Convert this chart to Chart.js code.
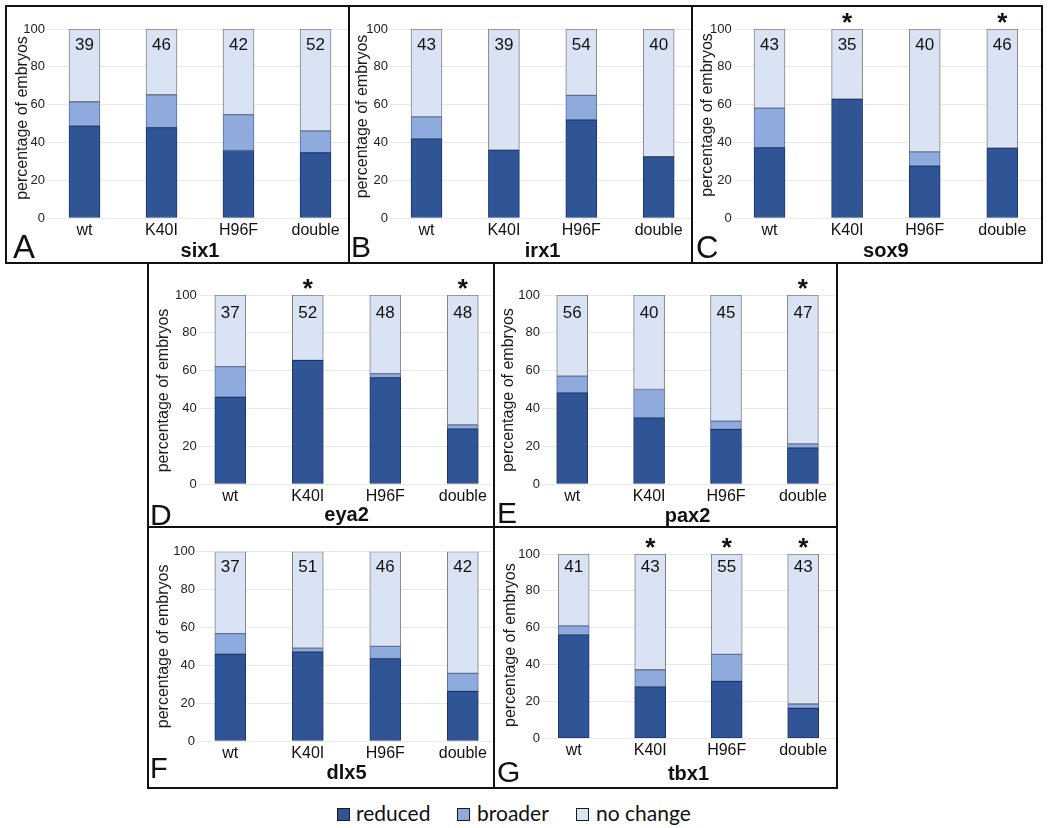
<!DOCTYPE html>
<html><head><meta charset="utf-8">
<script src="https://cdn.jsdelivr.net/npm/chart.js@4.4.1/dist/chart.umd.min.js"></script>
<style>
html,body{margin:0;padding:0;background:#fff;}
body{width:1050px;height:828px;position:relative;overflow:hidden;font-family:"Liberation Sans",Arial,sans-serif;}
.clip{position:absolute;overflow:hidden;}
.clip canvas{position:absolute;left:0;top:0;}
.frame{position:absolute;border:2px solid #111;box-sizing:border-box;pointer-events:none;z-index:5;}
.sw{position:absolute;width:11px;height:11px;border:1px solid #1a1a1a;}
.tx{position:absolute;font-family:Lato,"Open Sans",sans-serif;font-size:21px;line-height:1.2;color:#111;white-space:nowrap;}
</style></head><body>
<script>
// ---------------- data ----------------
const categories = ['wt', 'K40I', 'H96F', 'double'];
const yTickValues = [0, 20, 40, 60, 80, 100];
const seriesNames = ['reduced', 'broader', 'no change'];

const six1Reduced = [48.7, 47.8, 35.7, 34.6];
const six1Broader = [12.8, 17.4, 19.0, 11.5];
const six1Counts  = [39, 46, 42, 52];
const six1Stars   = [0, 0, 0, 0];

const irx1Reduced = [41.9, 35.9, 51.9, 32.5];
const irx1Broader = [11.6, 0, 13.0, 0];
const irx1Counts  = [43, 39, 54, 40];
const irx1Stars   = [0, 0, 0, 0];

const sox9Reduced = [37.2, 62.9, 27.5, 37.0];
const sox9Broader = [20.9, 0, 7.5, 0];
const sox9Counts  = [43, 35, 40, 46];
const sox9Stars   = [0, 1, 0, 1];

const eya2Reduced = [45.9, 65.4, 56.3, 29.2];
const eya2Broader = [16.2, 0, 2.1, 2.1];
const eya2Counts  = [37, 52, 48, 48];
const eya2Stars   = [0, 1, 0, 1];

const pax2Reduced = [48.2, 35.0, 28.9, 19.1];
const pax2Broader = [8.9, 15.0, 4.4, 2.1];
const pax2Counts  = [56, 40, 45, 47];
const pax2Stars   = [0, 0, 0, 1];

const dlx5Reduced = [45.9, 47.1, 43.5, 26.2];
const dlx5Broader = [10.8, 2.0, 6.5, 9.5];
const dlx5Counts  = [37, 51, 46, 42];
const dlx5Stars   = [0, 0, 0, 0];

const tbx1Reduced = [56.1, 27.9, 30.9, 16.3];
const tbx1Broader = [4.9, 9.3, 14.6, 2.3];
const tbx1Counts  = [41, 43, 55, 43];
const tbx1Stars   = [0, 1, 1, 1];

// ---------------- style / layout ----------------
const COLORS = {
  reduced:  {bg: '#2f5597', border: '#1c3566'},
  broader:  {bg: '#8faadc', border: '#5a6f96'},
  nochange: {bg: '#dae3f3', border: '#7f7f7f'}
};
const FONT = '"Liberation Sans", Arial, sans-serif';

// wtCenter: pixel centre of the first bar; catW: spacing between bars
const panels = [
  {gene:'six1', letter:'A', red:six1Reduced, bro:six1Broader, n:six1Counts, st:six1Stars,
   box:[5,5,345,259], wtCenter:84.5, catW:77, y100:29, y0:218, tickRight:45, yTitleX:22.5, yTitleDy:-5.5, labelDy:16, geneY:256.5, letterX:13, letterY:258, letterSize:33},
  {gene:'irx1', letter:'B', red:irx1Reduced, bro:irx1Broader, n:irx1Counts, st:irx1Stars,
   box:[348,5,345,259], wtCenter:426.5, catW:77.4, y100:29, y0:218, tickRight:388, yTitleX:362.5, yTitleDy:-7, labelDy:16, geneY:257, letterX:351, letterY:257, letterSize:30},
  {gene:'sox9', letter:'C', red:sox9Reduced, bro:sox9Broader, n:sox9Counts, st:sox9Stars,
   box:[691,5,352,259], wtCenter:769.5, catW:77.6, y100:29, y0:218, tickRight:731.7, yTitleX:707.5, yTitleDy:-8.5, labelDy:16, geneY:257, letterX:696, letterY:258, letterSize:31},
  {gene:'eya2', letter:'D', red:eya2Reduced, bro:eya2Broader, n:eya2Counts, st:eya2Stars,
   box:[147,262,348,266], wtCenter:230.3, catW:77.5, y100:295, y0:484, tickRight:196.7, yTitleX:164, yTitleDy:1, labelDy:18, geneY:521, letterX:150, letterY:525, letterSize:30},
  {gene:'pax2', letter:'E', red:pax2Reduced, bro:pax2Broader, n:pax2Counts, st:pax2Stars,
   box:[493,262,345,266], wtCenter:572.2, catW:76.9, y100:295, y0:484, tickRight:540, yTitleX:508.3, yTitleDy:0.5, labelDy:18, geneY:522, letterX:497, letterY:523, letterSize:30},
  {gene:'dlx5', letter:'F', red:dlx5Reduced, bro:dlx5Broader, n:dlx5Counts, st:dlx5Stars,
   box:[147,526,348,263], wtCenter:230.3, catW:77.5, y100:551.7, y0:741, tickRight:195, yTitleX:164, yTitleDy:0, labelDy:16, geneY:779, letterX:150, letterY:778, letterSize:29},
  {gene:'tbx1', letter:'G', red:tbx1Reduced, bro:tbx1Broader, n:tbx1Counts, st:tbx1Stars,
   box:[493,526,345,263], wtCenter:573.7, catW:76.5, y100:554, y0:738.3, tickRight:540, yTitleX:510.8, yTitleDy:-1, labelDy:13.5, geneY:780, letterX:497, letterY:782, letterSize:30}
];

function buildPanel(p) {
  const [L, T, W, H] = p.box;
  const clip = document.createElement('div');
  clip.className = 'clip';
  Object.assign(clip.style, {left: L + 'px', top: T + 'px', width: W + 'px', height: H + 'px'});
  const cv = document.createElement('canvas');
  cv.width = W; cv.height = H;
  cv.style.width = W + 'px'; cv.style.height = H + 'px';
  clip.appendChild(cv);
  document.body.appendChild(clip);
  const frame = document.createElement('div');
  frame.className = 'frame';
  Object.assign(frame.style, {left: L + 'px', top: T + 'px', width: W + 'px', height: H + 'px'});
  document.body.appendChild(frame);

  const gridStart = p.tickRight + 2;
  const xMin = (gridStart - p.wtCenter) / p.catW;
  const xMax = 3 + (L + W - (p.wtCenter + 3 * p.catW)) / p.catW;

  const common = {borderWidth: 1, borderSkipped: false, barThickness: 31};
  const noChange = p.red.map((r, i) => Math.round((100 - r - p.bro[i]) * 10) / 10);

  const textPlugin = {
    id: 'panelText' + p.letter,
    afterDraw(chart) {
      const {ctx, chartArea, scales: {x, y}} = chart;
      const top = y.getPixelForValue(100);
      const midX = (x.getPixelForValue(0) + x.getPixelForValue(3)) / 2;
      ctx.save();
      ctx.fillStyle = '#111';
      ctx.textAlign = 'center';
      ctx.textBaseline = 'middle';
      ctx.font = '17px ' + FONT;
      p.n.forEach((n, i) => ctx.fillText(String(n), x.getPixelForValue(i), top + p.labelDy));
      ctx.font = 'bold 26px ' + FONT;
      ctx.textBaseline = 'alphabetic';
      p.st.forEach((s, i) => { if (s) ctx.fillText('*', x.getPixelForValue(i), top + 2); });
      ctx.font = 'bold 20px ' + FONT;
      ctx.fillText(p.gene, midX, p.geneY - T);
      ctx.textAlign = 'left';
      ctx.font = p.letterSize + 'px ' + FONT;
      ctx.fillText(p.letter, p.letterX - L, p.letterY - T);
      ctx.translate(p.yTitleX - L, (chartArea.top + chartArea.bottom) / 2 + p.yTitleDy);
      ctx.rotate(-Math.PI / 2);
      ctx.textAlign = 'center';
      ctx.textBaseline = 'middle';
      ctx.font = '16px ' + FONT;
      ctx.fillStyle = '#1a1a1a';
      ctx.fillText('percentage of embryos', 0, 0);
      ctx.restore();
    }
  };

  new Chart(cv, {
    type: 'bar',
    data: {
      labels: categories.map((c, i) => i),
      datasets: [
        Object.assign({label: seriesNames[0], data: p.red, backgroundColor: COLORS.reduced.bg, borderColor: COLORS.reduced.border}, common),
        Object.assign({label: seriesNames[1], data: p.bro.map(v => v > 0 ? v : null), backgroundColor: COLORS.broader.bg, borderColor: COLORS.broader.border}, common),
        Object.assign({label: seriesNames[2], data: noChange, backgroundColor: COLORS.nochange.bg, borderColor: COLORS.nochange.border}, common)
      ]
    },
    options: {
      responsive: false, animation: false, devicePixelRatio: 1,
      layout: {padding: {left: 0, right: 0, top: p.y100 - T, bottom: 0}},
      plugins: {legend: {display: false}, tooltip: {enabled: false}},
      scales: {
        x: {
          type: 'linear', stacked: true, min: xMin, max: xMax, offset: false,
          afterBuildTicks: s => { s.ticks = categories.map((c, i) => ({value: i})); },
          grid: {display: false, drawTicks: false, offset: false}, border: {display: false},
          ticks: {font: {size: 16, family: FONT}, color: '#111', padding: 3, maxRotation: 0, minRotation: 0, autoSkip: false,
                  callback: v => categories[v]},
          afterFit: s => { s.height = H - (p.y0 - T); }
        },
        y: {
          stacked: true, min: 0, max: 100,
          afterBuildTicks: s => { s.ticks = yTickValues.map(v => ({value: v})); },
          ticks: {font: {size: 13, family: FONT}, color: '#222', padding: 2},
          grid: {color: '#e9e9e9', drawTicks: false, lineWidth: 1},
          border: {display: false},
          afterFit: s => { s.width = gridStart - L; }
        }
      }
    },
    plugins: [textPlugin]
  });
}
panels.forEach(buildPanel);

// ---------------- legend ----------------
const legendItems = [
  {name: seriesNames[0], color: COLORS.reduced.bg, sx: 337, tx: 356},
  {name: seriesNames[1], color: COLORS.broader.bg, sx: 457, tx: 477},
  {name: seriesNames[2], color: COLORS.nochange.bg, sx: 576, tx: 596}
];
legendItems.forEach(it => {
  const sw = document.createElement('span');
  sw.className = 'sw';
  Object.assign(sw.style, {left: it.sx + 'px', top: '808px', background: it.color});
  document.body.appendChild(sw);
  const t = document.createElement('span');
  t.className = 'tx';
  t.textContent = it.name;
  Object.assign(t.style, {left: it.tx + 'px', top: '800px'});
  document.body.appendChild(t);
});
</script>
</body></html>
